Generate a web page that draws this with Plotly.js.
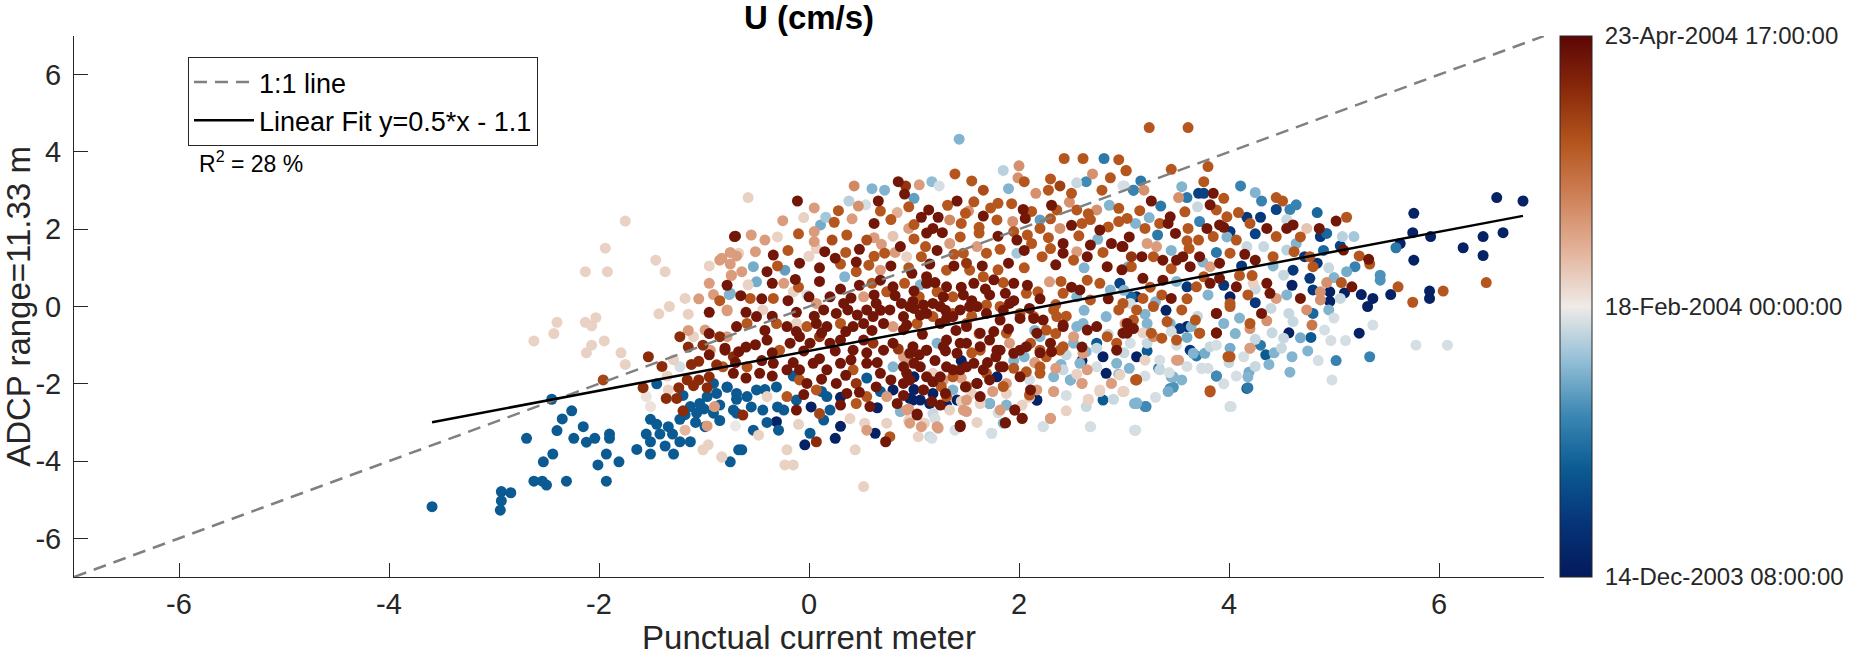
<!DOCTYPE html>
<html>
<head>
<meta charset="utf-8">
<script src="https://cdn.plot.ly/plotly-3.0.1.min.js"></script>
<style>
  html, body { margin: 0; padding: 0; background: #fff; }
  #chart { width: 1870px; height: 656px; }
</style>
</head>
<body>
<div id="chart"></div>
<script>
// samples: [current meter U, ADCP U, days since 14-Dec-2003 08:00]
var samples = [
  [-3.59,-5.18,26],[-2.93,-4.79,26],[-2.84,-4.82,26],[-2.93,-5.03,26],[-2.94,-5.27,26],[-2.62,-4.52,26],
  [-2.54,-4.52,26],[-2.50,-4.62,26],[-2.31,-4.52,26],[-1.93,-4.52,26],[-2.53,-4.02,26],[-2.44,-3.82,26],
  [-2.69,-3.41,26],[-2.40,-3.21,26],[-2.35,-2.91,26],[-2.26,-2.70,26],[-2.45,-2.40,26],[-2.15,-3.11,26],
  [-2.24,-3.41,26],[-2.12,-3.51,26],[-2.04,-3.41,26],[-1.90,-3.30,26],[-1.90,-3.41,26],[-2.01,-4.10,26],
  [-1.93,-3.82,26],[-1.81,-4.02,26],[-1.64,-3.70,26],[-1.51,-3.82,26],[-1.51,-2.92,26],[-1.55,-3.30,26],
  [-1.51,-3.50,26],[-1.42,-3.30,26],[-1.37,-3.61,26],[-1.29,-3.82,26],[-1.34,-3.11,26],[-1.23,-2.92,26],
  [-1.23,-3.50,26],[-1.13,-3.50,26],[-1.07,-2.76,26],[-1.13,-2.59,26],[-1.04,-2.51,26],[-0.99,-3.11,26],
  [-0.91,-2.76,26],[-0.97,-2.33,26],[-0.78,-2.09,26],[-0.69,-2.76,26],[-0.75,-4.02,26],[-0.67,-3.71,26],
  [-0.69,-2.40,26],[-0.91,-1.99,26],[-1.18,-2.80,26],[-1.08,-3.00,26],[-1.30,-3.30,26],[-1.45,-3.05,26],
  [-1.00,-2.65,26],[-0.85,-2.95,26],
  [-1.75,2.21,72],[-1.94,1.51,72],[-2.13,0.90,72],[-1.92,0.90,72],[-1.46,1.20,72],[-1.37,0.90,72],
  [-1.18,0.21,72],[-1.33,0.00,72],[-1.43,-0.19,72],[-2.40,-0.41,72],[-2.43,-0.70,72],[-2.62,-0.89,72],
  [-2.13,-0.41,72],[-2.03,-0.29,72],[-2.07,-0.50,72],[-2.07,-1.00,72],[-2.12,-1.20,72],[-1.95,-0.89,72],
  [-1.79,-1.20,72],[-1.75,-1.50,72],
  [-0.85,1.20,85],[-0.74,0.80,85],[-0.91,0.31,85],[-0.78,-0.11,85],[-0.69,1.31,85],[-0.99,-0.61,85],
  [-0.76,0.31,50],
  [-0.70,1.82,125],[-1.23,-0.78,118],[-1.53,-1.30,118],[-1.58,-2.10,118],[-1.36,-2.38,118],[-1.26,-2.38,118],
  [-1.24,-2.10,118],[-1.16,-1.90,118],[-1.12,-1.50,118],[-1.01,-1.00,118],[-1.05,-1.90,118],[-0.97,-2.10,118],
  [-1.20,-2.70,118],[-0.85,-0.78,118],[-0.80,-1.13,125],[-0.88,-1.51,118],[-1.96,-1.90,110],[-0.72,-1.30,118],
  [-1.01,-3.71,72],[-0.96,-3.58,72],[-0.83,-3.90,72],[-1.18,-3.20,78],[-0.97,-3.09,85],[-1.55,-2.33,68],
  [-1.51,-2.59,68],[-1.34,-2.16,72],[-0.90,-2.59,85],[-0.70,-3.09,65],
  [-1.29,-1.38,72],[-1.23,-1.56,62],[-1.10,-0.78,72],[-0.94,-1.13,85],
  [1.43,4.33,50],[-0.58,2.82,72],[-0.11,2.73,125],[-0.71,1.81,125],[0.43,3.12,90],[0.85,3.23,125],
  [0.92,3.12,115],[0.91,2.91,125],[1.17,3.23,52],[1.24,3.12,62],[1.39,3.43,105],[1.41,2.73,125],
  [0.66,2.73,125],[0.72,3.01,50],[1.00,2.80,45],[0.38,2.73,58],[0.54,2.63,62],[0.84,2.43,80],
  [1.07,2.31,125],[1.23,2.31,125],[1.85,3.52,58],[2.00,3.64,88],[1.99,3.33,88],[2.05,3.23,105],
  [2.43,3.83,105],[2.61,3.83,105],[2.81,3.83,35],[2.70,3.43,88],[2.87,3.33,105],[3.02,3.52,105],
  [3.00,3.12,60],[2.64,3.23,40],[3.09,3.01,38],[1.66,3.01,108],[2.16,2.93,88],[2.28,3.01,105],
  [2.39,3.12,112],[2.50,2.93,105],[2.79,3.01,105],[0.16,2.31,55],[0.11,2.11,48],[0.05,1.94,85],
  [0.05,1.68,85],[0.22,1.72,108],[0.55,1.72,108],[0.69,1.61,85],[0.80,1.82,75],[0.95,2.02,85],
  [1.18,2.02,125],[1.27,1.91,125],[1.34,2.24,90],[1.49,2.41,105],[1.57,2.71,105],[1.80,2.67,105],
  [1.66,2.34,125],[1.79,2.24,105],[2.04,2.51,125],[2.06,2.28,125],[1.95,1.94,105],[1.80,1.82,125],
  [2.20,2.24,45],[2.20,2.02,105],[2.36,2.50,105],[2.39,2.02,88],[2.55,2.50,105],[2.60,2.15,105],
  [2.74,2.50,88],[2.95,2.54,105],[3.03,2.28,105],[3.11,2.15,50],[2.85,2.06,105],[2.77,1.98,125],
  [2.88,1.63,125],[2.98,1.55,125],[2.68,1.59,125],[2.42,1.63,125],[2.42,1.38,125],[2.52,1.20,105],
  [2.65,1.29,125],[2.84,1.03,125],[3.07,1.29,115],[3.04,1.03,48],[2.12,1.63,105],[2.22,1.29,105],
  [1.98,1.38,55],[1.90,1.12,125],[1.69,1.38,105],[1.60,1.55,85],[1.47,1.38,105],[1.50,1.12,115],
  [1.34,1.63,85],[1.11,1.55,105],[1.07,1.29,105],[0.93,1.29,72],[0.87,1.55,125],[0.72,1.38,105],
  [0.57,1.07,105],[0.68,0.94,85],[0.45,0.90,105],[0.34,0.77,50],[0.25,1.25,125],[0.15,1.42,125],
  [0.07,1.50,72],[-0.09,1.12,125],[-0.13,0.70,125],[-0.23,0.94,45],[-0.34,1.33,125],[-0.40,0.90,125],
  [-0.42,1.72,85],[-0.51,1.42,85],[-0.53,1.03,48],[-0.64,0.90,85],[-0.74,0.81,85],[-0.75,0.34,48],
  [-0.78,-0.09,85],[-0.83,1.25,85],[-0.67,1.38,72],[-0.58,0.56,72],[-0.50,0.64,48],[-0.56,0.21,105],
  [-0.44,-0.09,72],[-0.34,0.21,105],[-0.24,0.60,85],[-0.15,0.38,72],[-0.02,0.30,62],[0.07,0.08,85],
  [0.14,-0.09,125],[0.26,-0.18,125],[0.37,-0.09,125],[0.52,0.25,85],[0.60,0.60,105],[0.74,0.38,105],
  [0.80,0.51,125],[0.91,0.60,105],[0.99,0.13,125],[1.06,0.56,50],[1.12,0.60,125],[1.22,0.38,105],
  [1.31,0.51,125],[1.37,0.25,105],[1.47,0.30,125],[1.57,0.60,125],[1.66,0.77,105],[1.76,0.69,125],
  [1.87,0.34,125],[1.95,0.60,125],[2.07,0.34,105],[2.18,0.38,105],[2.29,0.64,85],[2.42,0.34,105],
  [2.58,0.43,125],[2.68,0.17,105],[2.77,0.60,105],[2.87,0.43,50],[2.96,0.60,18],[3.06,0.08,62],
  [3.12,0.25,4],[2.95,-0.09,105],[3.01,-0.44,85],[2.83,-0.26,50],[2.74,-0.52,125],[2.65,-0.61,125],
  [2.55,-0.52,50],[2.42,-0.52,125],[2.33,-0.09,105],[2.23,-0.35,125],[2.14,-0.26,105],[2.01,-0.18,105],
  [1.91,0.08,125],[1.82,-0.35,125],[1.69,-0.18,125],[1.60,0.00,125],[1.50,-0.44,105],[1.37,-0.26,125],
  [1.25,-0.44,125],[1.12,-0.18,125],[1.03,-0.44,105],[0.90,-0.26,125],[0.80,-0.52,85],[0.71,-0.44,125],
  [0.61,-0.26,125],[0.52,-0.44,125],[0.42,-0.52,125],[0.30,-0.44,105],[0.17,-0.52,125],[0.07,-0.44,125],
  [-0.02,-0.52,105],[-0.12,-0.44,72],[-0.21,-0.52,125],[-0.31,-0.44,105],[-0.50,-0.26,125],[-0.59,-0.44,105],
  [-0.69,-0.52,125],[-0.78,-0.78,85],[-0.80,-1.08,125],[-0.67,-1.17,125],[-0.51,-0.99,125],[-0.40,-0.87,125],
  [-0.28,-1.13,105],[-0.18,-0.95,125],[-0.09,-0.78,125],[0.01,-0.95,125],[0.10,-0.78,115],[0.20,-0.95,125],
  [0.30,-0.87,125],[0.42,-1.13,125],[0.52,-0.87,125],[0.61,-0.95,115],[0.71,-1.13,125],[0.80,-0.95,125],
  [0.90,-1.30,85],[0.99,-1.04,125],[1.12,-1.13,125],[1.22,-0.95,50],[1.31,-0.87,125],[1.41,-1.21,125],
  [1.50,-0.95,125],[1.63,-1.13,105],[1.72,-0.87,125],[1.82,-1.13,125],[1.91,-0.95,85],[2.01,-1.13,125],
  [2.11,-0.95,105],[2.20,-0.78,50],[2.30,-0.95,125],[2.39,-1.13,105],[2.52,-0.95,50],[2.61,-1.21,85],
  [2.74,-0.95,26],[2.80,-1.30,4],[2.93,-1.13,125],[3.06,-0.95,62],[3.12,-1.30,4],[2.93,-1.47,50],
  [2.83,-1.73,4],[2.74,-1.56,62],[2.65,-1.64,85],[2.49,-1.90,50],[2.33,-1.82,50],[2.20,-1.73,105],
  [2.11,-2.16,125],[2.01,-1.82,125],[1.88,-1.99,85],[1.79,-1.82,4],[1.69,-1.73,105],[1.60,-1.99,125],
  [1.49,-2.08,125],[1.37,-1.82,105],[1.28,-1.90,85],[1.18,-2.25,4],[1.09,-2.16,105],[0.99,-2.42,4],
  [0.90,-1.99,125],[0.80,-2.16,4],[0.74,-2.33,85],[0.64,-2.08,125],[0.55,-2.33,105],[0.45,-1.99,115],
  [0.36,-2.25,125],[0.26,-1.99,125],[0.17,-2.33,26],[0.07,-2.16,105],[-0.02,-1.99,125],[-0.12,-2.42,26],
  [-0.21,-2.33,105],[-0.31,-2.08,26],[-0.40,-2.33,72],[-0.50,-2.16,26],[-0.59,-2.33,26],[-0.69,-2.25,26],
  [-0.78,-2.08,26],[-0.72,-2.68,26],[-0.63,-2.81,118],[-0.53,-3.20,26],[-0.48,-3.33,72],[-0.64,-3.71,26],
  [-0.31,-2.98,4],[-0.29,-3.20,26],[-0.21,-3.71,72],[-0.04,-3.58,4],[0.07,-3.50,118],[0.01,-3.28,26],
  [0.14,-2.94,26],[0.20,-2.68,26],[0.25,-3.41,4],[0.44,-3.71,72],[0.39,-2.90,72],[0.53,-3.02,72],
  [0.63,-3.28,4],[0.73,-3.50,125],[0.77,-3.37,105],[0.74,-3.02,72],[0.87,-2.72,50],[1.03,-2.78,125],
  [1.10,-3.02,72],[1.23,-3.15,85],[1.17,-3.41,62],[1.39,-3.20,62],[1.44,-3.07,125],[1.50,-2.72,85],
  [1.34,-2.68,72],[1.63,-2.51,72],[1.74,-3.28,62],[1.85,-3.02,50],[1.87,-3.01,125],[1.96,-2.68,115],
  [2.03,-2.90,115],[2.03,-2.55,72],[1.88,-2.55,50],[1.72,-2.51,50],[2.17,-2.42,4],[2.23,-3.11,62],
  [2.30,-2.90,85],[2.33,-2.20,85],[2.60,-1.99,85],[2.68,-3.11,62],[2.66,-2.42,72],[2.77,-2.20,72],
  [2.88,-1.99,85],[2.99,-2.20,72],[3.10,-2.51,50],[3.10,-3.20,62],[3.11,-1.90,105],[-0.83,-3.89,72],
  [-0.23,-4.10,72],[-0.15,-4.10,72],[0.52,-4.66,72],
  [0.20,0.25,125],[0.33,0.08,125],[0.55,-0.09,125],[0.64,0.08,125],[0.77,-0.09,125],[0.88,0.08,125],
  [1.18,0.08,125],[1.28,0.25,125],[1.44,-0.09,125],[1.12,0.77,125],[1.31,0.94,105],[1.53,0.94,105],
  [0.98,0.86,125],[0.04,-1.47,125],[0.17,-1.64,125],[0.30,-1.47,125],[0.42,-1.64,105],[0.55,-1.47,125],
  [0.68,-1.73,125],[0.80,-1.56,50],[0.93,-1.73,125],[1.06,-1.56,125],[1.18,-1.73,72],[1.31,-1.56,125],
  [1.44,-1.64,125],[1.57,-1.47,125],[1.85,-1.56,125],[-0.09,-1.64,125],[-0.21,-1.64,125],[-0.34,-1.47,125],
  [-0.47,-1.73,125],[-0.59,-1.56,105],[-0.72,-1.73,125],[-0.82,-1.56,105],[-0.09,-1.90,105],[0.45,-2.51,105],
  [0.58,-2.59,125],[0.84,-2.51,125],[1.15,-2.51,4],[-0.12,-2.68,125],[-0.24,-2.68,26],[-0.44,-2.68,26],
  [0.10,-2.77,110],
  [3.24,4.63,105],[3.61,4.63,105],[3.02,3.51,105],[3.80,3.62,105],[3.76,3.23,105],[3.16,3.25,35],
  [2.99,3.12,62],[3.19,3.01,88],[3.09,3.01,35],[4.11,3.12,38],[3.71,2.93,18],[3.76,2.93,18],
  [3.85,2.93,125],[3.82,2.63,125],[3.60,2.82,35],[3.52,2.82,88],[3.26,2.73,125],[4.31,2.73,38],
  [4.45,2.82,105],[4.51,2.73,105],[4.45,2.51,18],[4.58,2.51,38],[4.64,2.63,38],[4.84,2.43,30],
  [5.12,2.31,105],[5.02,2.21,125],[5.76,2.41,4],[6.55,2.82,4],[6.80,2.73,4],[6.42,1.81,4],
  [6.61,1.91,4],[6.23,1.52,4],[6.42,1.32,4],[5.75,1.91,4],[5.92,1.81,4],[5.76,1.20,4],
  [5.63,1.63,4],[5.59,1.52,35],[6.45,0.62,105],[6.04,0.40,105],[5.75,0.11,105],[5.91,0.40,4],
  [5.91,0.21,4],[5.61,0.51,105],[5.54,0.31,4],[5.37,0.21,4],[5.32,0.00,4],[5.26,0.31,4],
  [5.17,0.51,125],[5.07,0.62,105],[5.33,1.22,125],[5.34,1.10,105],[5.24,1.31,105],[5.09,1.46,125],
  [5.06,1.57,18],[5.20,1.03,38],[5.12,0.90,48],[5.44,0.81,42],[5.44,0.68,42],[5.19,1.81,55],
  [5.08,1.81,58],[4.93,1.89,30],[4.87,1.81,14],[4.86,2.02,125],[4.74,2.02,75],[4.61,2.11,125],
  [4.55,2.02,125],[4.64,1.63,50],[4.55,1.46,58],[4.72,1.29,14],[4.77,1.29,105],[4.84,1.12,14],
  [4.80,1.03,105],[4.61,0.94,14],[4.52,0.81,60],[4.77,0.73,14],[4.80,0.43,14],[4.96,0.38,4],
  [4.93,0.62,88],[4.87,0.38,88],[5.06,0.21,60],[4.96,0.13,4],[4.95,-0.09,50],[4.87,0.17,88],
  [4.74,-0.09,88],[4.68,0.21,125],[4.80,-0.18,30],[4.79,-0.48,95],[4.57,-0.18,60],[4.61,-0.39,60],
  [4.91,-0.61,62],[4.57,-0.68,4],[4.68,-0.81,48],[4.97,-0.88,62],[5.11,-0.88,62],[5.24,-0.69,4],
  [5.37,-0.48,62],[5.34,-1.30,38],[5.02,-1.40,38],[4.85,-1.40,62],[4.98,-1.90,62],[4.58,-1.70,50],
  [4.60,-1.30,50],[4.38,-1.50,50],[4.43,-1.20,50],[4.50,-1.08,60],[4.52,-0.82,60],[4.41,-0.68,60],
  [4.30,-1.00,35],[4.19,-1.70,48],[4.18,-2.10,35],[4.07,-1.80,62],[4.02,-2.59,62],[3.82,-2.21,105],
  [3.88,-1.80,38],[3.74,-1.60,62],[3.80,-1.60,62],[4.01,-1.30,105],[4.14,-1.30,62],[4.20,-1.08,85],
  [3.47,-2.09,42],[3.42,-2.20,48],[3.45,-1.82,48],[3.33,-1.60,35],[3.34,-1.39,62],[3.43,-1.71,62],
  [3.12,-2.51,48],[3.21,-2.59,38],[3.11,-3.20,62],[3.12,-1.89,105],[3.00,-2.20,72],[3.20,-1.80,62],
  [3.20,-1.39,72],[3.52,-1.39,85],[3.63,-1.13,14],[3.69,-1.28,35],[3.77,-1.21,48],[3.88,-1.00,62],
  [4.01,-1.08,48],[3.88,-0.68,125],[3.88,-0.18,125],[4.31,-0.18,125],[4.36,-0.37,88],[4.20,-0.57,88],
  [4.01,0.08,105],[4.18,0.30,105],[4.39,0.34,125],[4.45,0.21,85],[4.36,0.60,125],[4.23,0.60,72],
  [4.22,0.80,105],[4.10,0.80,105],[4.07,0.51,125],[4.01,0.25,4],[3.91,0.73,125],[3.82,0.60,125],
  [3.76,0.77,105],[3.69,0.51,105],[3.60,0.51,14],[3.55,-0.09,105],[3.45,0.21,125],[3.36,0.30,105],
  [3.28,0.00,105],[3.18,0.21,105],[3.12,-0.09,105],[3.07,0.25,30],[2.99,0.08,105],[3.03,-0.44,125],
  [3.09,-0.57,125],[2.99,-0.69,125],[3.22,-0.44,50],[3.18,-0.68,72],[3.28,-0.78,88],[3.36,-0.82,105],
  [3.44,-0.44,50],[3.53,-0.57,14],[3.64,-0.52,50],[3.72,-0.69,105],[3.95,-0.44,50],[4.06,-0.70,50],
  [3.37,0.68,125],[3.28,1.29,105],[3.17,1.29,125],[3.18,0.73,125],[3.07,1.03,105],[2.99,1.55,125],
  [3.37,1.20,125],[3.50,1.20,125],[3.56,1.29,125],[3.44,2.32,125],[3.42,2.15,125],[3.49,1.89,125],
  [3.34,2.15,105],[3.20,2.02,105],[3.22,1.63,85],[3.31,1.55,85],[3.61,2.02,105],[3.72,1.29,125],
  [3.71,1.72,105],[3.79,2.02,125],[3.91,2.11,125],[3.88,2.50,105],[3.98,2.32,105],[4.09,2.43,105],
  [4.17,2.31,14],[4.30,2.31,14],[4.01,1.94,14],[4.07,1.72,105],[4.17,1.55,60],[4.25,1.20,125],
  [4.33,1.55,60],[4.36,2.02,125],[4.45,1.81,105],[4.42,1.29,105],[3.91,1.12,125],[3.85,1.81,105],
  [4.01,1.38,105],[3.63,1.03,125],[3.82,1.03,85],[5.78,-1.00,62],[6.08,-1.00,62],
  // the dense core, read row by row
  [0.05,2.55,85],[0.28,2.48,105],[0.47,2.60,88],[0.68,2.47,105],[0.95,2.58,105],[1.14,2.50,125],
  [1.32,2.62,105],[1.52,2.47,88],[1.73,2.55,105],[1.93,2.66,105],[2.12,2.46,105],[2.31,2.62,125],
  [2.48,2.70,88],[2.66,2.40,105],[2.86,2.62,50],[3.15,2.48,105],[3.35,2.60,35],[3.58,2.45,105],
  [3.70,2.58,60],
  [-0.25,2.22,85],[-0.05,2.30,72],[0.24,2.18,105],[0.41,2.27,85],[0.62,2.15,125],[0.78,2.25,105],
  [1.00,2.12,105],[1.45,2.15,105],[1.62,2.05,105],[1.94,2.20,88],[2.30,2.27,105],[2.50,2.10,125],
  [2.68,2.25,105],[2.95,2.20,105],[3.24,2.30,50],[3.72,2.20,38],[3.95,2.05,125],[4.20,2.15,105],
  [4.55,2.25,60],
  [-0.55,1.85,85],[-0.30,1.80,72],[-0.10,1.88,105],[0.36,1.85,105],[0.62,1.78,85],[1.00,1.75,105],
  [1.12,1.90,125],[1.44,1.80,105],[1.62,1.90,105],[1.98,1.72,125],[2.08,1.85,105],[2.28,1.78,105],
  [2.57,1.83,105],[2.75,1.74,50],[3.05,1.80,125],[3.32,1.85,35],[3.60,1.70,105],[3.98,1.80,50],
  [4.25,1.88,18],[4.68,1.80,105],
  [-0.75,1.40,85],[-0.20,1.45,105],[0.00,1.30,72],[0.35,1.40,105],[0.48,1.48,125],[0.62,1.30,105],
  [0.82,1.40,85],[1.22,1.45,125],[1.38,1.35,105],[1.82,1.48,105],[2.05,1.45,125],[2.30,1.50,105],
  [2.55,1.42,85],[2.80,1.40,105],[3.45,1.45,50],[3.62,1.50,105],[3.88,1.40,35],[4.15,1.35,125],
  [4.62,1.42,105],[4.90,1.45,30],
  [-0.95,1.05,72],[-0.75,1.10,85],[-0.30,1.05,105],[0.10,1.00,125],[0.30,1.10,105],[0.45,1.15,125],
  [0.78,1.05,125],[0.95,1.00,105],[1.15,1.10,125],[1.38,1.05,125],[1.65,1.05,125],[1.80,0.95,105],
  [2.05,1.00,105],[2.35,1.08,125],[2.62,1.00,50],[2.98,0.95,125],[3.45,0.98,105],[3.75,1.15,50],
  [4.12,1.05,14],[4.42,1.05,50],[4.95,1.00,60],
  [-0.95,0.60,85],[-0.78,0.55,125],[-0.35,0.60,125],[-0.10,0.50,105],[0.10,0.65,125],[0.30,0.45,125],
  [0.48,0.55,125],[0.68,0.68,125],[1.00,0.40,125],[1.20,0.62,125],[1.45,0.50,125],[1.68,0.45,125],
  [1.85,0.62,105],[2.08,0.55,125],[2.40,0.65,105],[2.50,0.50,125],[2.65,0.68,105],[3.00,0.42,50],
  [3.25,0.50,105],[3.50,0.65,50],[3.95,0.55,14],[4.25,0.45,60],[4.60,0.55,4],[5.00,0.75,50],
  [-1.05,0.20,85],[-0.85,0.15,105],[-0.65,0.28,125],[-0.45,0.20,125],[-0.20,0.15,125],[0.00,0.25,125],
  [0.40,0.22,125],[0.62,0.30,125],[0.82,0.28,125],[1.05,0.25,105],[1.55,0.15,125],[1.72,0.30,125],
  [1.95,0.15,125],[2.20,0.20,125],[2.35,0.05,105],[2.55,0.25,50],[2.85,0.20,125],[3.30,0.12,50],
  [3.60,0.20,105],[3.80,0.30,50],[4.25,0.10,14],[4.55,0.30,50],[5.10,0.35,4],
  [-1.15,-0.20,72],[-0.95,-0.15,125],[-0.60,-0.15,125],[-0.35,-0.25,125],[-0.12,-0.15,125],[0.05,-0.25,125],
  [0.46,-0.22,125],[0.68,-0.10,125],[1.00,-0.05,125],[1.30,-0.10,125],[1.55,-0.25,105],[1.85,-0.10,125],
  [2.10,-0.05,125],[2.45,-0.25,105],[2.62,-0.10,50],[3.20,-0.20,50],[3.40,-0.10,4],[3.70,-0.25,60],
  [4.10,-0.30,50],[4.40,-0.05,60],[5.00,-0.30,62],
  [-1.15,-0.62,85],[-0.95,-0.70,125],[-0.42,-0.62,125],[-0.12,-0.65,125],[0.12,-0.68,125],[0.35,-0.65,125],
  [0.60,-0.62,125],[0.90,-0.60,125],[1.08,-0.72,125],[1.40,-0.62,125],[1.62,-0.70,105],[1.90,-0.58,125],
  [2.15,-0.62,50],[2.35,-0.70,105],[2.85,-0.72,60],[3.45,-0.65,62],[3.60,-0.80,48],[4.25,-0.85,60],
  [4.78,-0.80,26],
  [-1.15,-1.05,118],[-0.95,-1.25,125],[-0.60,-1.05,125],[-0.35,-1.20,125],[-0.05,-1.15,125],[0.25,-1.15,125],
  [0.55,-1.20,125],[0.85,-1.10,115],[1.05,-1.25,125],[1.30,-1.15,125],[1.55,-1.20,105],[1.78,-1.30,125],
  [2.05,-1.30,50],[2.20,-1.20,125],[2.45,-1.25,60],[2.60,-1.05,125],[3.00,-1.20,60],[3.22,-1.15,26],
  [3.50,-1.00,62],[4.00,-1.45,60],[4.35,-1.25,26],[4.75,-1.15,50],
  [-1.05,-1.42,118],[-0.70,-1.45,125],[-0.45,-1.40,125],[-0.15,-1.45,125],[0.10,-1.35,125],[0.40,-1.38,125],
  [0.65,-1.45,125],[0.95,-1.45,85],[1.20,-1.40,125],[1.45,-1.40,4],[1.70,-1.45,125],[1.95,-1.40,50],
  [2.15,-1.45,85],[2.40,-1.50,50],[2.60,-1.40,4],[3.05,-1.60,50],[3.60,-1.55,62],[4.25,-1.55,60],
  [-0.95,-1.82,118],[-0.60,-1.85,125],[-0.35,-1.80,125],[-0.15,-1.80,26],[0.12,-1.88,125],[0.35,-1.78,125],
  [0.55,-1.85,26],[0.78,-1.90,125],[1.00,-1.82,4],[1.18,-1.95,125],[1.45,-1.85,85],[2.10,-1.90,62],
  [2.35,-1.60,85],[2.55,-1.75,72],[2.95,-1.75,50],[3.55,-1.90,50],[3.95,-2.00,62],
  [-0.88,-2.25,26],[-0.42,-2.15,26],[-0.05,-2.28,125],[0.12,-2.20,26],[0.30,-2.35,4],[0.48,-2.22,125],
  [0.68,-2.20,26],[0.90,-2.30,125],[1.00,-2.15,4],[1.30,-2.25,125],[1.55,-2.25,72],[1.75,-2.20,85],
  [2.10,-2.35,72],[2.45,-2.30,62],[2.90,-2.40,60],[3.30,-2.35,62],
  [-0.85,-2.55,26],[-0.55,-2.60,26],[-0.30,-2.60,26],[0.02,-2.60,4],[0.30,-2.55,125],[0.65,-2.62,4],
  [0.95,-2.65,85],[1.25,-2.55,125],[1.45,-2.45,72],[1.80,-2.75,62],[2.45,-2.70,72],
  [-0.40,-3.00,26],[-0.10,-3.05,72],[0.30,-3.10,4],[0.55,-3.20,85],[0.95,-2.95,72],[1.20,-2.90,62],
  [1.60,-3.00,72],
  [0.60,3.05,50],[1.05,3.15,85],[1.55,3.25,105],[1.90,3.05,50],[2.30,3.30,105],[2.55,3.20,60],
  [2.95,3.80,105],[3.45,3.55,105],[3.55,3.10,50],[3.95,2.80,105],[4.25,2.95,50],
  [-1.40,-1.55,118],[-1.45,-2.00,26],[-1.35,-1.80,72],[-1.20,-2.30,26],[-1.10,-2.05,118],
  [0.96,0.00,125],[1.09,0.04,125],[1.25,0.00,125],[1.37,-0.18,105],[1.53,0.00,125],[1.69,0.04,105],
  [1.82,0.00,105],[0.93,-0.48,125],[1.06,-0.22,125],[1.18,-0.26,105],[1.31,-0.31,125],[1.50,-0.52,125],
  [1.63,-0.69,125],[1.76,-0.65,125],[1.88,-0.69,105],[2.01,-0.31,125],[2.14,-0.31,125],[2.26,-0.61,105],
  [2.42,-0.48,125],[2.36,-0.26,105],[2.17,-0.69,125],[2.07,-1.04,125],[2.20,-1.13,105],[2.31,-1.17,125],
  [2.42,-1.04,105],[2.52,-0.78,85],[2.61,-0.44,50],[2.64,-1.17,50],[2.58,-1.47,50],[2.74,-1.08,60],
  [2.84,-0.78,105],[2.93,-0.95,105],[3.03,-0.69,125],[3.09,-0.35,105],[3.22,-0.95,60],[3.26,-0.69,105],
  [3.41,-0.39,105],[3.50,-0.87,105],[3.60,-0.52,4],[3.68,-0.35,105],[3.72,-0.69,105],[3.82,-1.04,60],
  [3.88,-0.69,125],[3.88,-0.18,125],[4.01,0.00,105],[4.20,-0.44,105],[4.20,-1.08,85],[3.99,-1.30,105],
  [4.18,-1.82,50],[4.17,-2.12,26],[4.01,-2.59,60],[3.82,-2.18,105],[3.88,-1.80,40],[3.74,-1.60,60],
  [3.44,-2.12,40],[3.47,-1.82,50],[3.34,-1.64,60],[3.50,-1.39,85],[3.66,-1.21,50],[3.12,-1.90,105],
  [3.20,-2.59,40],[3.12,-2.49,50],[3.11,-3.20,60],[2.99,-2.20,72],[2.88,-1.99,72],[2.96,-1.77,72],
  [2.80,-2.42,26],[2.77,-2.16,72],[2.66,-2.40,72],[2.64,-2.59,60],[2.68,-3.11,60],[2.60,-1.99,85],
  [2.49,-1.90,40],[2.42,-1.64,60],[2.33,-2.20,72],[2.30,-2.89,85],[2.23,-3.11,60],[2.17,-2.16,85],
  [2.10,-2.29,105],[2.17,-2.42,4],[2.03,-2.89,125],[1.96,-2.68,125],[1.87,-3.01,125],[1.82,-2.68,85],
  [1.72,-2.51,40],[1.74,-3.28,60],[1.88,-2.25,72],[1.85,-2.07,105],[1.72,-1.90,125],[1.63,-2.33,125],
  [1.60,-1.99,4],[1.50,-2.07,105],[1.47,-2.68,85],[1.44,-3.11,125],[1.37,-2.16,50],[1.31,-2.33,105],
  [1.26,-2.07,105],[1.22,-3.11,85],[1.15,-3.37,60],[1.07,-3.11,85],[1.04,-3.37,72],[0.96,-3.02,85],
  [1.18,-2.77,60],[1.03,-2.81,125],[0.93,-2.68,85],[0.96,-2.38,4],[1.06,-2.42,4],[1.17,-2.46,125],
  [1.31,-2.55,4],[1.41,-2.42,4],[1.50,-2.42,85],[1.09,-2.16,125],[0.96,-1.90,125],[1.12,-1.82,125],
  [1.25,-1.82,125],[1.37,-1.64,125],[1.50,-1.56,125],[1.66,-1.64,125],[1.82,-1.56,125],[1.95,-1.60,105],
  [2.07,-1.69,105],[2.20,-1.56,105],[2.26,-1.30,105],[1.95,-1.21,125],[1.79,-1.13,125],[1.63,-1.04,125],
  [1.44,-0.95,125],[1.28,-1.04,125],[1.12,-1.13,125],[0.96,-1.21,125],[0.90,-1.56,125],[1.00,-1.47,125]
];

var fitSlope = 0.514;
var fitIntercept = -1.15;
var rSquared = 28;

var axisTicks = [-6, -4, -2, 0, 2, 4, 6];
var axisTickText = ['-6', '-4', '-2', '0', '2', '4', '6'];

var timeTicks = [0, 65.667, 131.375];
var timeTickText = ['14-Dec-2003 08:00:00', '18-Feb-2004 00:00:00', '23-Apr-2004 17:00:00'];

// older samples first so that later ones sit on top
var ordered = samples.slice().sort(function (a, b) { return a[2] - b[2]; });
var meterU = ordered.map(function (s) { return s[0]; });
var adcpU = ordered.map(function (s) { return s[1]; });
var sampleDay = ordered.map(function (s) { return s[2]; });

var xMin = Math.min.apply(null, meterU);
var xMax = Math.max.apply(null, meterU);

var balance = [
    [0.0, '#041a5c'], [0.1, '#063478'], [0.2, '#0b5b93'], [0.3, '#3c87b3'],
    [0.4, '#93bfd6'], [0.5, '#efebe8'], [0.6, '#e3b49c'], [0.7, '#cf8259'],
    [0.8, '#b5561f'], [0.9, '#8a2a0a'], [1.0, '#5c0606']
];

var font = 'Liberation Sans, Arial, sans-serif';

var dots = {
    x: meterU,
    y: adcpU,
    mode: 'markers',
    type: 'scatter',
    showlegend: false,
    hoverinfo: 'x+y',
    marker: {
        size: 11,
        color: sampleDay,
        colorscale: balance,
        cmin: timeTicks[0],
        cmax: timeTicks[2],
        line: { width: 0 },
        colorbar: {
            x: (1560 - 74) / 1470,
            xanchor: 'left',
            y: 0.5,
            yanchor: 'middle',
            len: 1,
            lenmode: 'fraction',
            thickness: 32,
            thicknessmode: 'pixels',
            xpad: 0,
            ypad: 0,
            outlinewidth: 1,
            outlinecolor: '#262626',
            tickvals: timeTicks,
            ticktext: timeTickText,
            ticks: 'outside',
            ticklen: 8,
            tickcolor: 'rgba(0,0,0,0)',
            tickfont: { family: font, size: 24, color: '#262626' }
        }
    }
};

var oneToOne = {
    x: [-7, 7],
    y: [-7, 7],
    mode: 'lines',
    type: 'scatter',
    name: '1:1 line',
    line: { color: '#808080', width: 2.5, dash: '13px,8px' },
    hoverinfo: 'skip'
};

var fitLine = {
    x: [xMin, xMax],
    y: [fitSlope * xMin + fitIntercept, fitSlope * xMax + fitIntercept],
    mode: 'lines',
    type: 'scatter',
    name: 'Linear Fit y=0.5*x - 1.1',
    line: { color: '#000000', width: 2.5 },
    hoverinfo: 'skip'
};

var layout = {
    width: 1870,
    height: 656,
    margin: { l: 74, r: 326, t: 36, b: 79, pad: 0 },
    paper_bgcolor: '#ffffff',
    plot_bgcolor: '#ffffff',
    font: { family: font, color: '#262626' },
    title: {
        text: '<b>U (cm/s)</b>',
        font: { family: font, size: 33, color: '#000000' },
        xref: 'paper',
        x: 0.5,
        yref: 'container',
        y: 1 - 17 / 656,
        yanchor: 'middle'
    },
    xaxis: {
        range: [-7, 7],
        tickvals: axisTicks,
        ticktext: axisTickText,
        ticks: 'inside',
        ticklen: 14,
        tickwidth: 1,
        tickcolor: '#262626',
        showline: true,
        linecolor: '#262626',
        linewidth: 1,
        showgrid: false,
        zeroline: false,
        automargin: false,
        ticklabelstandoff: 1,
        tickfont: { family: font, size: 29, color: '#262626' },
        title: {
            text: 'Punctual current meter',
            font: { family: font, size: 33, color: '#262626' },
            standoff: 14
        }
    },
    yaxis: {
        range: [-7, 7],
        tickvals: axisTicks,
        ticktext: axisTickText,
        ticks: 'inside',
        ticklen: 14,
        tickwidth: 1,
        tickcolor: '#262626',
        showline: true,
        linecolor: '#262626',
        linewidth: 1,
        showgrid: false,
        zeroline: false,
        automargin: false,
        ticklabelstandoff: 6,
        tickfont: { family: font, size: 29, color: '#262626' },
        title: {
            text: 'ADCP range=11.33 m',
            font: { family: font, size: 33, color: '#262626' },
            standoff: 4
        }
    },
    legend: {
        x: (188 - 74) / 1470,
        y: (577 - 57) / 541,
        xanchor: 'left',
        yanchor: 'top',
        bgcolor: '#ffffff',
        bordercolor: '#262626',
        borderwidth: 1,
        itemwidth: 60,
        font: { family: font, size: 27, color: '#000000' }
    },
    annotations: [{
        xref: 'paper',
        yref: 'paper',
        x: (197 - 74) / 1470,
        y: (577 - 162) / 541,
        xanchor: 'left',
        yanchor: 'middle',
        showarrow: false,
        text: 'R<sup>2</sup> = ' + rSquared + ' %',
        font: { family: font, size: 23, color: '#000000' }
    }]
};

Plotly.newPlot('chart', [dots, oneToOne, fitLine], layout, { displayModeBar: false, staticPlot: true });
</script>
</body>
</html>
